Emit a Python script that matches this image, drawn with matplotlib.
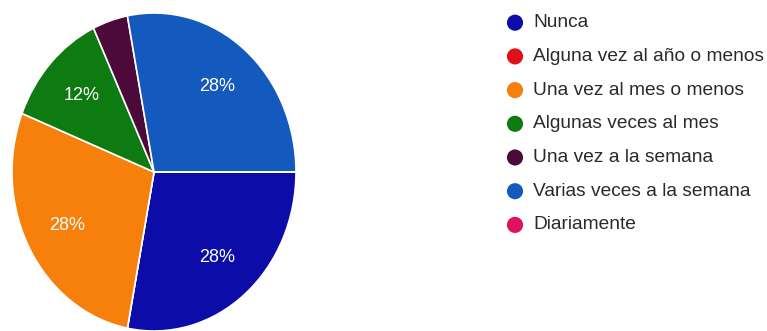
import matplotlib.pyplot as plt

# ----------------------------
# Data
# ----------------------------
categories = [
    "Nunca",
    "Alguna vez al año o menos",
    "Una vez al mes o menos",
    "Algunas veces al mes",
    "Una vez a la semana",
    "Varias veces a la semana",
    "Diariamente",
]
shares = [28, 0, 28, 12, 4, 28, 0]
colors = ["#0c0ca8", "#e0101a", "#f77f0c", "#0e7a12", "#4c0a3a", "#1459bd", "#e0115f"]

plt.rcParams["font.family"] = ["Liberation Sans", "DejaVu Sans"]

W, H = 767, 331
fig = plt.figure(figsize=(W / 100, H / 100), dpi=100)

# ----------------------------
# Pie (slightly taller than wide)
# ----------------------------
ax = fig.add_axes([12 / W, 0, 284 / W, 318 / H])
wedges, texts, autotexts = ax.pie(
    shares,
    colors=colors,
    startangle=0,
    counterclock=False,
    autopct=lambda p: f"{p:.0f}%" if p >= 5 else "",
    pctdistance=0.7,
    wedgeprops=dict(edgecolor="white", linewidth=1.2),
    textprops=dict(color="white", fontsize=13),
)
ax.set_aspect("auto")
ax.set_xlim(-1, 1)
ax.set_ylim(-1, 1)

# ----------------------------
# Legend drawn in pixel coordinates
# ----------------------------
lg = fig.add_axes([0, 0, 1, 1])
lg.set_xlim(0, W)
lg.set_ylim(H, 0)
lg.axis("off")
lg.patch.set_alpha(0)

row0, step = 22.7, 33.7
for i, (name, c) in enumerate(zip(categories, colors)):
    y = row0 + i * step
    lg.scatter([515], [y], s=135, color=c, edgecolors="none")
    lg.text(533, y, name, va="center", ha="left", fontsize=13.8, color="#2a2a2a")

fig.savefig("out.png", dpi=100)
